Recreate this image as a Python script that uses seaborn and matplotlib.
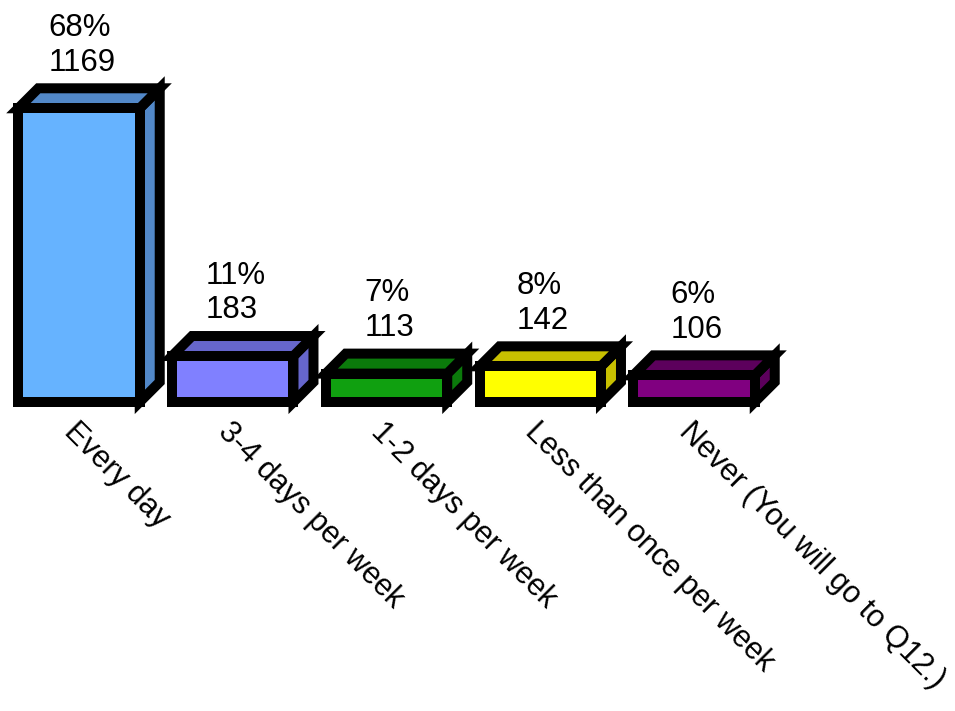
import pandas as pd
import seaborn as sns
import matplotlib.pyplot as plt
from matplotlib.patches import Polygon

categories = ["Every day", "3-4 days per week", "1-2 days per week",
              "Less than once per week", "Never (You will go to Q12.)"]
counts = [1169, 183, 113, 142, 106]
percents = ["68%", "11%", "7%", "8%", "6%"]
front_colors = ["#66B3FF", "#8080FF", "#10A010", "#FFFF00", "#800080"]
shade_colors = ["#5288C8", "#6666CC", "#0B7A0B", "#C8C000", "#5C005C"]

df = pd.DataFrame({"Frequency": categories, "Count": counts})

sns.set_style("white")
plt.rcParams["font.family"] = ["Liberation Sans", "DejaVu Sans"]
plt.rcParams["text.color"] = "black"
plt.rcParams["xtick.color"] = "black"

W, H = 955, 711
fig = plt.figure(figsize=(W / 100, H / 100), dpi=100)
# axes bottom sits on the bar baseline, axes spans full width
ax = fig.add_axes([0, (H - 402) / H, 1, 402 / H])

sns.barplot(data=df, x="Frequency", y="Count", hue="Frequency",
            palette=front_colors, saturation=1, width=0.79, legend=False,
            edgecolor="black", linewidth=7.2, ax=ax)

slot = 153.75
xmin = -79 / slot
ax.set_xlim(xmin, xmin + W / slot)
ax.set_ylim(0, 1600)

# fake 3d depth: 20 px up and right
depth = 20
dx = depth * (ax.get_xlim()[1] - ax.get_xlim()[0]) / W
dy = depth * ax.get_ylim()[1] / 402

bars = sorted(ax.patches, key=lambda p: p.get_x())
for i, p in enumerate(bars):
    x0, w, h = p.get_x(), p.get_width(), p.get_height()
    p.set_zorder(3)
    p.set_clip_on(False)
    top = Polygon([(x0, h), (x0 + w, h), (x0 + w + dx, h + dy), (x0 + dx, h + dy)],
                  facecolor=shade_colors[i], edgecolor="black", linewidth=7.2,
                  zorder=2, clip_on=False)
    side = Polygon([(x0 + w, 0), (x0 + w + dx, dy), (x0 + w + dx, h + dy), (x0 + w, h)],
                   facecolor=shade_colors[i], edgecolor="black", linewidth=7.2,
                   zorder=2, clip_on=False)
    ax.add_patch(side)
    ax.add_patch(top)
    ax.annotate(f"{percents[i]}\n{counts[i]}", xy=(x0 + w / 2, h),
                xytext=(2, 22), textcoords="offset points",
                ha="center", va="bottom", multialignment="left",
                linespacing=1.2, fontsize=22.5, annotation_clip=False)

ax.set_xticks(range(len(categories)))
ax.set_xticklabels(categories, rotation=-45, ha="left",
                   rotation_mode="anchor", fontsize=22)
ax.tick_params(axis="x", length=0, pad=11)
ax.set_yticks([])
ax.set(xlabel="", ylabel="")
sns.despine(left=True, bottom=True)

fig.savefig("out.png", dpi=100)
